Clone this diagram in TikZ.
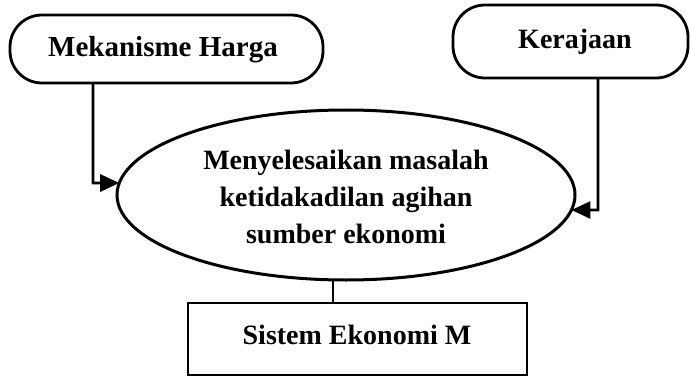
\documentclass[tikz,border=0pt]{standalone}
\usepackage{fontspec}
\setmainfont{Liberation Serif}
\usetikzlibrary{shapes.geometric,arrows.meta,intersections}
\begin{document}
\begin{tikzpicture}[x=1pt,y=-1pt,
  lbl/.style={font=\fontsize{28}{37}\selectfont\bfseries},
  pill/.style={draw,line width=2.8pt,rounded corners=32pt},
  conn/.style={line width=2.8pt},
  arr/.style={conn,-{Triangle[length=19pt,width=17pt]}}]
\useasboundingbox (0,0) rectangle (690,377);
\draw[pill] (10,15) rectangle (323,83);
\node[lbl,font=\fontsize{29}{37}\selectfont\bfseries] (mh) at (163,50) {Mekanisme Harga};
\coordinate (mhb) at (93,83);
\draw[pill] (453,5) rectangle (688,78);
\node[lbl] (ker) at (575,42) {Kerajaan};
\coordinate (kb) at (598,78);
\draw[line width=3pt,name path=elp] (346,195) ellipse [x radius=229pt, y radius=85pt];
\node[lbl,align=center] (el) at (346,197) {Menyelesaikan masalah\\ketidakadilan agihan\\sumber ekonomi};
\coordinate (elb) at (333,280);
\draw[line width=2.8pt] (188,303) rectangle (527,375);
\node[lbl] (sem) at (357,335) {Sistem Ekonomi M};
\coordinate (rt) at (333,303);
\coordinate (c1) at (93,183);
\coordinate (c2) at (598,210);
\path[name path=h1] (c1) -- (346,183);
\path[name path=h2] (c2) -- (346,210);
\path[name intersections={of=elp and h1,by=i1}];
\path[name intersections={of=elp and h2,by=i2}];
\draw[arr] (mhb) -- (c1) -- (i1);
\draw[arr] (kb) -- (c2) -- (i2);
\draw[conn] (elb) -- (rt);
\end{tikzpicture}
\end{document}
